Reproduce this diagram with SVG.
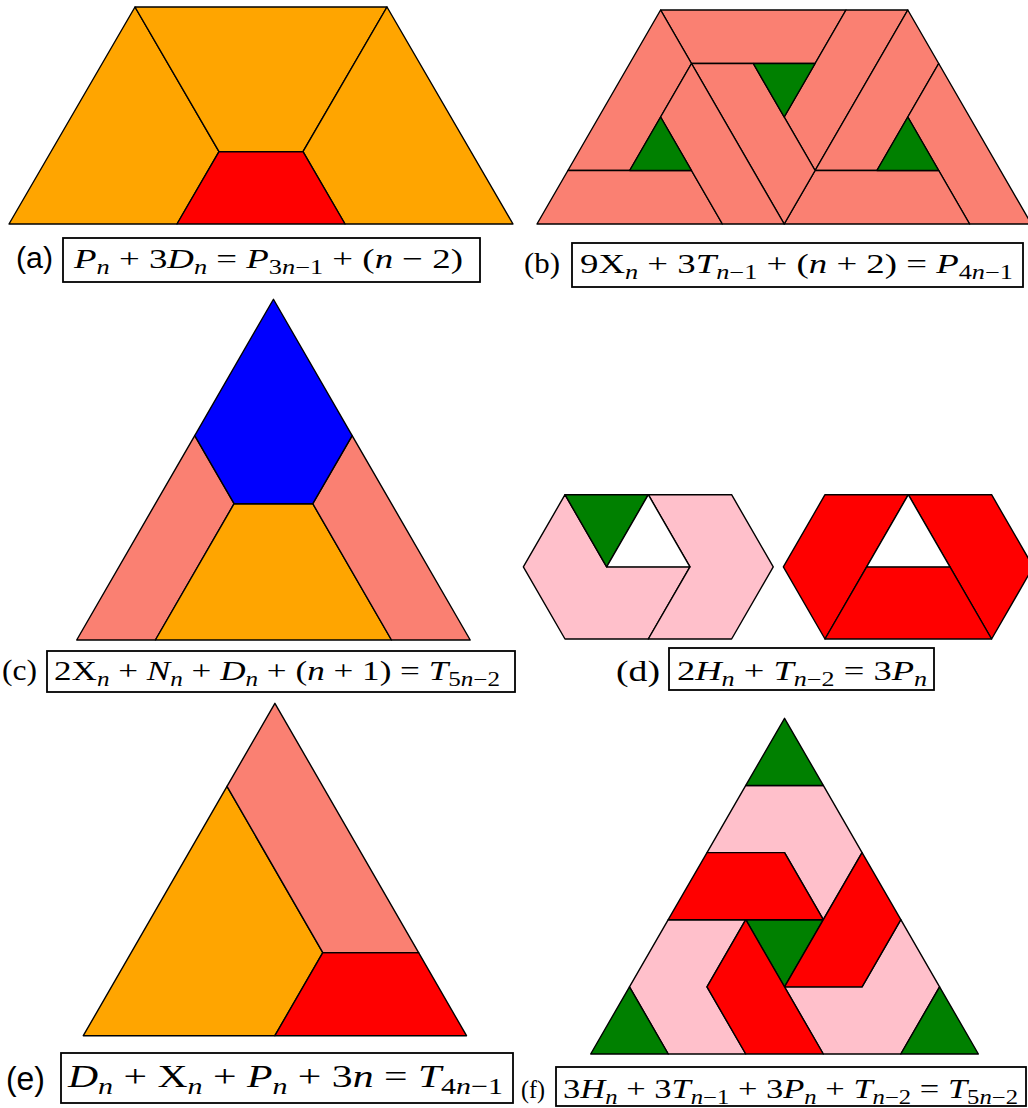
<svg xmlns="http://www.w3.org/2000/svg" width="1028" height="1108" viewBox="0 0 1028 1108">
<style>
polygon{stroke:#000;stroke-width:1.4;stroke-linejoin:round}
.or{fill:#FFA500}.rd{fill:#FF0000}.sa{fill:#FA8072}.gr{fill:#008000}.bl{fill:#0000FF}.pk{fill:#FFC0CB}.wh{fill:#FFFFFF}
.box{fill:none;stroke:#000;stroke-width:1.8}
.m{font-family:"Liberation Serif","DejaVu Serif",serif;font-size:28px;fill:#000}
.me{font-family:"Liberation Serif","DejaVu Serif",serif;font-size:32px;fill:#000}
.i{font-style:italic}
.s{font-size:20px}
.se{font-size:23px}
.lsans{font-family:"Liberation Sans",Arial,sans-serif;font-size:29px;fill:#000}
.lserif{font-family:"Liberation Serif","DejaVu Serif",serif;font-size:29px;fill:#000}
</style>

<g id="panel-a">
<polygon id="a-left" class="or" points="9,224 177,224 219,151.7 135,7"/>
<polygon id="a-top" class="or" points="135,7 387,7 303,151.7 219,151.7"/>
<polygon id="a-right" class="or" points="387,7 513,224 345,224 303,151.7"/>
<polygon id="a-red" class="rd" points="177,224 345,224 303,151.7 219,151.7"/>
</g>

<g id="panel-b">
<polygon id="b-A" class="sa" points="660.6,10 846,10 815.1,63.5 691.5,63.5"/>
<polygon id="b-B" class="sa" points="846,10 907.8,10 815.1,170.5 784.2,117"/>
<polygon id="b-C" class="sa" points="907.8,10 938.7,63.5 876.9,170.5 815.1,170.5"/>
<polygon id="b-D" class="sa" points="938.7,63.5 1031.4,224 969.6,224 938.7,170.5 907.8,117"/>
<polygon id="b-E" class="sa" points="815.1,170.5 938.7,170.5 969.6,224 784.2,224"/>
<polygon id="b-F" class="sa" points="691.5,63.5 753.3,63.5 815.1,170.5 784.2,224"/>
<polygon id="b-G" class="sa" points="660.6,10 691.5,63.5 629.7,170.5 567.9,170.5"/>
<polygon id="b-H" class="sa" points="567.9,170.5 691.5,170.5 722.4,224 537,224"/>
<polygon id="b-I" class="sa" points="691.5,63.5 660.6,117 722.4,224 784.2,224"/>
<polygon id="b-g1" class="gr" points="629.7,170.5 691.5,170.5 660.6,117"/>
<polygon id="b-g2" class="gr" points="753.3,63.5 815.1,63.5 784.2,117"/>
<polygon id="b-g3" class="gr" points="876.9,170.5 938.7,170.5 907.8,117"/>
</g>

<g id="panel-c">
<polygon id="c-pink-left" class="sa" points="76.7,640 155.4,640 234.1,503.7 194.75,435.55"/>
<polygon id="c-orange" class="or" points="155.4,640 391.5,640 312.8,503.7 234.1,503.7"/>
<polygon id="c-pink-right" class="sa" points="391.5,640 470.2,640 352.15,435.55 312.8,503.7"/>
<polygon id="c-blue" class="bl" points="234.1,503.7 312.8,503.7 352.15,435.55 273.45,299.25 194.75,435.55"/>
</g>

<g id="panel-d">
<g id="d-left-hex">
<polygon id="d-pink-1" class="pk" points="565,494.7 606.65,566.85 689.95,566.85 648.3,639 565,639 523.35,566.85"/>
<polygon id="d-pink-2" class="pk" points="648.3,494.7 731.6,494.7 773.25,566.85 731.6,639 648.3,639 689.95,566.85"/>
<polygon id="d-green" class="gr" points="565,494.7 648.3,494.7 606.65,566.85"/>
<polygon id="d-white-1" class="wh" points="648.3,494.7 689.95,566.85 606.65,566.85"/>
</g>
<g id="d-right-hex">
<polygon id="d-red-1" class="rd" points="825,494.7 908.3,494.7 825,639 783.35,566.85"/>
<polygon id="d-red-2" class="rd" points="908.3,494.7 991.6,494.7 1033.25,566.85 991.6,639"/>
<polygon id="d-red-3" class="rd" points="866.65,566.85 949.95,566.85 991.6,639 825,639"/>
<polygon id="d-white-2" class="wh" points="908.3,494.7 949.95,566.85 866.65,566.85"/>
</g>
</g>

<g id="panel-e">
<polygon id="e-orange" class="or" points="83.3,1035.7 274.9,1035.7 322.8,952.6 227,786.4"/>
<polygon id="e-red" class="rd" points="274.9,1035.7 466.5,1035.7 418.6,952.6 322.8,952.6"/>
<polygon id="e-salmon" class="sa" points="227,786.4 274.9,703.3 418.6,952.6 322.8,952.6"/>
</g>

<g id="panel-f">
<polygon id="f-pink-top" class="pk" points="745.78,785.44 823.31,785.44 862.07,852.58 823.3,919.72 784.54,852.58 707.01,852.58"/>
<polygon id="f-pink-left" class="pk" points="668.24,919.72 745.77,919.72 707,986.86 745.76,1054 668.23,1054 629.47,986.86"/>
<polygon id="f-pink-right" class="pk" points="784.53,986.86 862.06,986.86 900.83,919.72 939.59,986.86 900.82,1054 823.29,1054"/>
<polygon id="f-green-top" class="gr" points="745.78,785.44 823.31,785.44 784.55,718.3"/>
<polygon id="f-green-bl" class="gr" points="590.7,1054 668.23,1054 629.47,986.86"/>
<polygon id="f-green-br" class="gr" points="900.82,1054 978.35,1054 939.59,986.86"/>
<polygon id="f-green-center" class="gr" points="745.77,919.72 823.3,919.72 784.53,986.86"/>
<polygon id="f-red-1" class="rd" points="707.01,852.58 784.54,852.58 823.3,919.72 668.24,919.72"/>
<polygon id="f-red-2" class="rd" points="862.07,852.58 900.83,919.72 862.06,986.86 784.53,986.86"/>
<polygon id="f-red-3" class="rd" points="745.77,919.72 707,986.86 745.76,1054 823.29,1054"/>
</g>

<g id="labels">
<g id="label-a">
<text class="lsans" x="16" y="268" textLength="37" lengthAdjust="spacingAndGlyphs">(a)</text>
<rect class="box" x="63" y="238" width="417" height="44"/>
<text class="m" x="74" y="268" textLength="389" lengthAdjust="spacingAndGlyphs"><tspan class="i">P</tspan><tspan class="s i" dy="6">n</tspan><tspan dy="-6"> + 3</tspan><tspan class="i">D</tspan><tspan class="s i" dy="6">n</tspan><tspan dy="-6"> = </tspan><tspan class="i">P</tspan><tspan class="s" dy="6">3<tspan class="i">n</tspan>−1</tspan><tspan dy="-6"> + (</tspan><tspan class="i">n</tspan><tspan> − 2)</tspan></text>
</g>
<g id="label-b">
<text class="lserif" x="524" y="273" textLength="36" lengthAdjust="spacingAndGlyphs">(b)</text>
<rect class="box" x="572" y="243" width="451" height="44"/>
<text class="m" x="580" y="273" textLength="433" lengthAdjust="spacingAndGlyphs"><tspan>9X</tspan><tspan class="s i" dy="6">n</tspan><tspan dy="-6"> + 3</tspan><tspan class="i">T</tspan><tspan class="s" dy="6"><tspan class="i">n</tspan>−1</tspan><tspan dy="-6"> + (</tspan><tspan class="i">n</tspan><tspan> + 2) = </tspan><tspan class="i">P</tspan><tspan class="s" dy="6">4<tspan class="i">n</tspan>−1</tspan></text>
</g>
<g id="label-c">
<text class="lserif" x="2" y="680" textLength="35" lengthAdjust="spacingAndGlyphs">(c)</text>
<rect class="box" x="47" y="651" width="468" height="41"/>
<text class="m" x="54" y="680" textLength="446" lengthAdjust="spacingAndGlyphs"><tspan>2X</tspan><tspan class="s i" dy="6">n</tspan><tspan dy="-6"> + </tspan><tspan class="i">N</tspan><tspan class="s i" dy="6">n</tspan><tspan dy="-6"> + </tspan><tspan class="i">D</tspan><tspan class="s i" dy="6">n</tspan><tspan dy="-6"> + (</tspan><tspan class="i">n</tspan><tspan> + 1) = </tspan><tspan class="i">T</tspan><tspan class="s" dy="6">5<tspan class="i">n</tspan>−2</tspan></text>
</g>
<g id="label-d">
<text class="lserif" x="616" y="681" textLength="44" lengthAdjust="spacingAndGlyphs">(d)</text>
<rect class="box" x="669" y="648" width="265" height="42"/>
<text class="m" x="677" y="680" textLength="250" lengthAdjust="spacingAndGlyphs"><tspan>2</tspan><tspan class="i">H</tspan><tspan class="s i" dy="6">n</tspan><tspan dy="-6"> + </tspan><tspan class="i">T</tspan><tspan class="s" dy="6"><tspan class="i">n</tspan>−2</tspan><tspan dy="-6"> = 3</tspan><tspan class="i">P</tspan><tspan class="s i" dy="6">n</tspan></text>
</g>
<g id="label-e">
<text class="lsans" x="6" y="1090" style="font-size:34px" textLength="39" lengthAdjust="spacingAndGlyphs">(e)</text>
<rect class="box" x="61" y="1053" width="452" height="50"/>
<text class="me" x="68" y="1087" textLength="435" lengthAdjust="spacingAndGlyphs"><tspan class="i">D</tspan><tspan class="se i" dy="7">n</tspan><tspan dy="-7"> + X</tspan><tspan class="se i" dy="7">n</tspan><tspan dy="-7"> + </tspan><tspan class="i">P</tspan><tspan class="se i" dy="7">n</tspan><tspan dy="-7"> + 3</tspan><tspan class="i">n</tspan><tspan> = </tspan><tspan class="i">T</tspan><tspan class="se" dy="7">4<tspan class="i">n</tspan>−1</tspan></text>
</g>
<g id="label-f">
<text class="lserif" x="521" y="1098" style="font-size:26px" textLength="24" lengthAdjust="spacingAndGlyphs">(f)</text>
<rect class="box" x="556" y="1067" width="470" height="39"/>
<text class="m" x="563" y="1098" textLength="455" lengthAdjust="spacingAndGlyphs"><tspan>3</tspan><tspan class="i">H</tspan><tspan class="s i" dy="6">n</tspan><tspan dy="-6"> + 3</tspan><tspan class="i">T</tspan><tspan class="s" dy="6"><tspan class="i">n</tspan>−1</tspan><tspan dy="-6"> + 3</tspan><tspan class="i">P</tspan><tspan class="s i" dy="6">n</tspan><tspan dy="-6"> + </tspan><tspan class="i">T</tspan><tspan class="s" dy="6"><tspan class="i">n</tspan>−2</tspan><tspan dy="-6"> = </tspan><tspan class="i">T</tspan><tspan class="s" dy="6">5<tspan class="i">n</tspan>−2</tspan></text>
</g>
</g>
</svg>
